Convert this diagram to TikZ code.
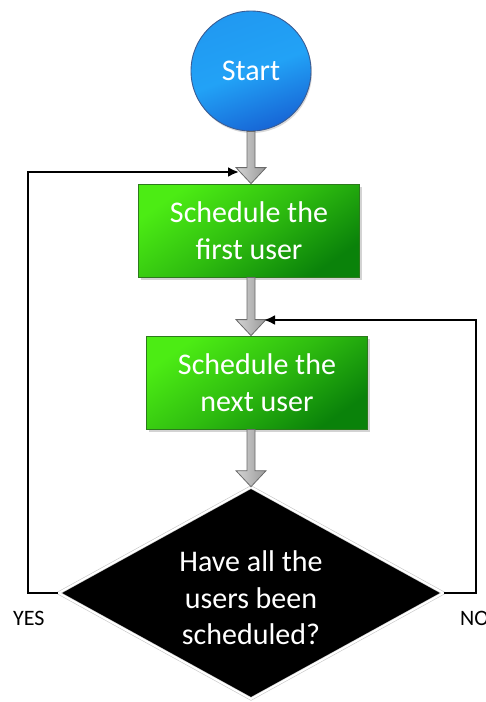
\documentclass[tikz,border=0pt]{standalone}
\usepackage{fontspec}
\setmainfont{Carlito}
\usetikzlibrary{shapes.geometric,shadows,calc,arrows.meta}

\definecolor{bluelight}{HTML}{22A2F6}
\definecolor{bluedark}{HTML}{1766D6}
\definecolor{blueedge}{HTML}{3A5C94}
\definecolor{greenlight}{HTML}{4CEC14}
\definecolor{greendark}{HTML}{0A820A}
\definecolor{greenedge}{HTML}{2C7A1C}
\definecolor{arrowlight}{HTML}{D4D4D4}
\definecolor{arrowdark}{HTML}{9A9A9A}
\definecolor{arrowedge}{HTML}{6A6A6A}

% vertical block arrow, kept on the axis of the start node
\newcommand\grayarrow[2]{%
  \path[grayarr] let \p1=(#1), \p2=(#2), \p3=(start.center) in
    (\x3-4pt,\y1) -- (\x3+4pt,\y1) -- (\x3+4pt,\y2+16pt) -- (\x3+15pt,\y2+16pt)
    -- (\x3,\y2) -- (\x3-15pt,\y2+16pt) -- (\x3-4pt,\y2+16pt) -- cycle;}

\begin{document}
\begin{tikzpicture}[x=1pt,y=-1pt,
  txt/.style={font=\fontsize{30}{36.5}\selectfont, text=white, align=center},
  startnode/.style={circle, minimum size=120pt, inner sep=0pt, draw=blueedge,
    line width=0.9pt, shading=axis, top color=bluelight!85!bluedark,
    bottom color=bluedark, middle color=bluelight, shading angle=20,
    drop shadow={shadow xshift=1pt, shadow yshift=-2pt, opacity=0.3}},
  stepbox/.style={rectangle, minimum width=221pt, minimum height=93pt, inner sep=0pt,
    draw=greenedge, line width=0.8pt, shading=axis, top color=greenlight,
    bottom color=greendark, middle color=greenlight!55!greendark, shading angle=35,
    drop shadow={shadow xshift=2pt, shadow yshift=-3pt, opacity=0.35}},
  decision/.style={diamond, minimum width=385pt, minimum height=212pt, inner sep=0pt,
    fill=black, draw=gray!45, double=white, double distance=2pt, line width=0.6pt},
  grayarr/.style={draw=arrowedge, line width=0.8pt, line join=miter, shading=axis,
    left color=arrowlight, right color=arrowdark},
  loopline/.style={draw=black, line width=2.6pt, line join=miter,
    -{Latex[length=11pt,width=10pt]}},
  side/.style={font=\fontsize{22}{26}\selectfont, text=black, inner sep=0pt}
]
\useasboundingbox (0,0) rectangle (486,702);

% main chain
\node[startnode] (start) at (251,71) {};
\node[txt] (starttxt) at (start.center) {Start};
\node[stepbox] (first) at (249,230.5) {};
\node[txt] (firsttxt) at (first.center) {Schedule the\\first user};
\node[stepbox] (next) at (257,382.5) {};
\node[txt] (nexttxt) at (next.center) {Schedule the\\next user};
\node[decision] (dec) at (251,593) {};
\node[txt] (dectxt) at (251,598) {Have all the\\users been\\scheduled?};

% branch labels
\node[side, anchor=base west] (yes) at (13,625) {YES};
\node[side, anchor=base west] (no) at (460,625) {NO};

% block arrows
\grayarrow{start.south}{first.north}
\grayarrow{first.south}{next.north}
\grayarrow{next.south}{dec.north}

% feedback loops
\coordinate (lcol) at (28,593);
\coordinate (j1) at (239,172);
\coordinate (rcol) at (476,593);
\coordinate (j2) at (264,320);
\draw[loopline] (dec.west) -- (lcol) |- (j1);
\draw[loopline] (dec.east) -- (rcol) |- (j2);
\end{tikzpicture}
\end{document}
